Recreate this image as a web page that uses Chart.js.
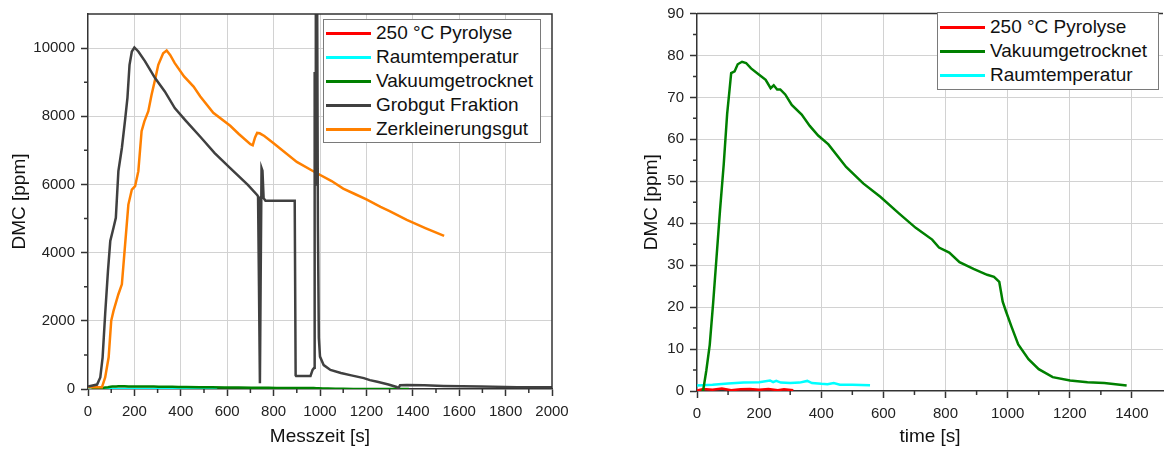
<!DOCTYPE html>
<html>
<head>
<meta charset="utf-8">
<script src="https://cdn.jsdelivr.net/npm/chart.js@4.4.0/dist/chart.umd.min.js"></script>
<style>
body { margin: 0; background: #fff; width: 1171px; height: 452px; overflow: hidden; position: relative; font-family: 'Liberation Sans', Arial, sans-serif; }
.box { position: absolute; top: 0; height: 452px; }
#boxLinks { left: 0; width: 580px; }
#boxRechts { left: 620px; width: 551px; }
.legende { position: absolute; background: #fff; border: 1px solid #7a7a7a; font-size: 19px; color: #111; box-sizing: border-box; }
.legende .zeile { position: relative; white-space: nowrap; }
.legende .linie { position: absolute; left: 2px; width: 45px; height: 3px; }
.legende .text { position: absolute; left: 52px; top: 0; }
</style>
</head>
<body>
<div class="box" id="boxLinks"><canvas id="diagrammLinks"></canvas></div>
<div class="box" id="boxRechts"><canvas id="diagrammRechts"></canvas></div>
<div class="legende" id="legendeLinks" style="left:323px; top:19px; width:218px; height:124px; padding-top:1px;"></div>
<div class="legende" id="legendeRechts" style="left:937px; top:12px; width:222px; height:78px; padding-top:2px;"></div>
<script>
// Messdaten (Zeit in s, DMC in ppm)
const pyroT = [0, 20, 50, 80, 110, 140, 170, 200, 230, 260, 280, 310];
const pyroV = [0.1, 0.5, 0.3, 0.6, 0.2, 0.4, 0.5, 0.3, 0.5, 0.2, 0.4, 0.2];

const raumT = [0, 50, 100, 150, 200, 235, 245, 255, 270, 300, 330, 355, 370, 400, 420, 440, 460, 500, 557];
const raumV = [1.3, 1.5, 1.8, 2.0, 2.1, 2.5, 2.1, 2.4, 2.0, 1.9, 2.0, 2.4, 1.9, 1.7, 1.6, 1.9, 1.5, 1.5, 1.4];

const vakuumT = [15, 20, 30, 41, 52, 63, 74, 86, 97, 105, 110, 121, 131, 145, 158, 174, 200, 221, 237, 247,
  258, 268, 284, 305, 337, 363, 390, 423, 480, 535, 590, 649, 704, 757, 779, 812, 845, 890, 934, 956,
  973, 984, 995, 1012, 1034, 1067, 1100, 1145, 1201, 1257, 1311, 1383];
const vakuumV = [0.2, 0.2, 4.9, 11, 21, 32, 43, 54, 66, 72, 75.8, 76.2, 77.9, 78.5, 78.2, 76.9, 75.4, 74.2, 72.2, 72.9,
  71.9, 71.9, 70.7, 68.2, 65.9, 63.2, 60.9, 58.8, 53.4, 49.5, 46.3, 42.4, 38.9, 36.1, 34.2, 33.0, 30.7, 29.1, 27.7, 27.2,
  26.0, 21.3, 18.9, 15.4, 11.1, 7.6, 5.2, 3.3, 2.5, 2.1, 1.9, 1.3];

const grobT = [0, 39, 53, 63, 74, 86, 96, 110, 120, 131, 146, 160, 170, 179, 189, 200, 217, 246, 289, 331,
  374, 420, 484, 546, 613, 689, 729, 733, 737, 741, 744, 748, 752, 757, 765, 891, 895, 897, 959, 968,
  975, 977, 979, 982, 987, 991, 995, 1000, 1016, 1045, 1090, 1135, 1189, 1215, 1247, 1295, 1330, 1338, 1345, 1374,
  1450, 1533, 1693, 1850, 2000];
const grobV = [70, 130, 340, 930, 2200, 3460, 4340, 4730, 5020, 6390, 7070, 7900, 8540, 9510, 9900, 10020, 9900, 9610, 9120, 8730,
  8240, 7880, 7400, 6920, 6480, 5990, 5690, 5650, 3000, 170, 3000, 6480, 6400, 5600, 5520, 5520, 400, 380, 380, 560,
  620, 9300, 6000, 13000, 13000, 4800, 1500, 950, 700, 560, 470, 400, 320, 260, 210, 130, 60, 20, 110, 120,
  110, 90, 70, 55, 50];

const zerkT = [0, 60, 74, 89, 100, 110, 131, 146, 160, 174, 189, 203, 217, 231, 243, 260, 274, 289, 303, 324,
  339, 354, 374, 414, 455, 484, 540, 613, 650, 700, 710, 720, 729, 740, 760, 800, 900, 973, 1050, 1100,
  1150, 1200, 1261, 1300, 1374, 1454, 1535];
const zerkV = [50, 50, 340, 930, 2000, 2290, 2780, 3070, 4240, 5410, 5850, 5950, 6390, 7560, 7850, 8150, 8630, 9070, 9510, 9850,
  9930, 9800, 9560, 9170, 8870, 8580, 8100, 7720, 7480, 7180, 7150, 7380, 7510, 7500, 7420, 7210, 6660, 6380, 6100, 5880,
  5720, 5560, 5340, 5220, 4960, 4720, 4490];

const farben = {
  pyro: '#ff0000',
  raum: '#00ffff',
  vakuum: '#008000',
  grob: '#404040',
  zerk: '#ff8000'
};

const schrift = "'Liberation Sans', Arial, sans-serif";

function punkte(t, v) {
  return t.map((x, i) => ({ x: x, y: v[i] }));
}

function linie(label, farbe, t, v) {
  return {
    label: label,
    data: punkte(t, v),
    borderColor: farbe,
    backgroundColor: farbe,
    borderWidth: 2.5,
    pointRadius: 0,
    tension: 0,
    fill: false
  };
}

function achse(min, max, schritt, haupt, letzteMarke, titel, titelPad, groesse, horizontal) {
  return {
    type: 'linear',
    min: min,
    max: max,
    afterFit: s => { if (horizontal) s.height = groesse; else s.width = groesse; },
    title: { display: true, text: titel, color: '#111', font: { size: 19, family: schrift }, padding: titelPad },
    ticks: {
      stepSize: schritt,
      autoSkip: false,
      maxRotation: 0,
      color: '#222',
      padding: horizontal ? 8 : 6,
      font: { size: 15, family: schrift, lineHeight: 1 },
      callback: v => (v % haupt === 0 && v <= letzteMarke) ? String(v) : ''
    },
    grid: {
      color: c => (c.tick && c.tick.value % haupt === 0 && c.tick.value > min && c.tick.value < max) ? '#d2d2d2' : 'rgba(0,0,0,0)',
      tickColor: c => (c.tick && c.tick.value % haupt === 0 && c.tick.value <= letzteMarke) ? '#333' : 'rgba(0,0,0,0)',
      tickLength: 7,
      tickWidth: 1.5,
      lineWidth: 1
    },
    border: { color: '#333', width: 1.5 }
  };
}

// Rahmen oben/rechts und kurze Zwischenstriche
const rahmen = {
  id: 'rahmen',
  afterDatasetsDraw(chart, args, opts) {
    const { ctx, chartArea: a, scales } = chart;
    ctx.save();
    ctx.strokeStyle = '#333';
    ctx.lineWidth = 1.5;
    ctx.beginPath();
    ctx.moveTo(a.left, a.top);
    ctx.lineTo(a.right, a.top);
    if (opts.rechts) ctx.lineTo(a.right, a.bottom);
    scales.x.ticks.forEach(t => {
      if (t.value % opts.xHaupt !== 0 && t.value < scales.x.max) {
        const px = scales.x.getPixelForValue(t.value);
        ctx.moveTo(px, a.bottom);
        ctx.lineTo(px, a.bottom + 4);
      }
    });
    scales.y.ticks.forEach(t => {
      if (t.value % opts.yHaupt !== 0 && t.value < scales.y.max) {
        const py = scales.y.getPixelForValue(t.value);
        ctx.moveTo(a.left - 4, py);
        ctx.lineTo(a.left, py);
      }
    });
    ctx.stroke();
    ctx.restore();
  }
};

const datenLinks = [
  linie('Grobgut Fraktion', farben.grob, grobT, grobV),
  linie('Zerkleinerungsgut', farben.zerk, zerkT, zerkV),
  linie('Vakuumgetrocknet', farben.vakuum, vakuumT, vakuumV),
  linie('Raumtemperatur', farben.raum, raumT, raumV),
  linie('250 °C Pyrolyse', farben.pyro, pyroT, pyroV)
];

const datenRechts = [
  linie('Vakuumgetrocknet', farben.vakuum, vakuumT, vakuumV),
  linie('Raumtemperatur', farben.raum, raumT, raumV),
  linie('250 °C Pyrolyse', farben.pyro, pyroT, pyroV)
];

const diagrammLinks = new Chart(document.getElementById('diagrammLinks'), {
  type: 'line',
  data: { datasets: datenLinks },
  options: {
    responsive: true,
    maintainAspectRatio: false,
    animation: false,
    events: [],
    layout: { padding: { top: 14, right: 28, left: 0, bottom: 0 } },
    scales: {
      x: achse(0, 2000, 100, 200, 2000, 'Messzeit [s]', { top: 0, bottom: 4 }, 63, true),
      y: achse(0, 11000, 1000, 2000, 10000, 'DMC [ppm]', { top: 8, bottom: 0 }, 88, false)
    },
    plugins: {
      legend: { display: false },
      tooltip: { enabled: false },
      rahmen: { rechts: true, xHaupt: 200, yHaupt: 2000 }
    }
  },
  plugins: [rahmen]
});

const diagrammRechts = new Chart(document.getElementById('diagrammRechts'), {
  type: 'line',
  data: { datasets: datenRechts },
  options: {
    responsive: true,
    maintainAspectRatio: false,
    animation: false,
    events: [],
    layout: { padding: { top: 7, right: 0, left: 0, bottom: 0 } },
    scales: {
      x: achse(0, 1500, 100, 200, 1400, 'time [s]', { top: 0, bottom: 4 }, 61, true),
      y: achse(0, 90, 5, 10, 90, 'DMC [ppm]', { top: 20, bottom: 0 }, 77, false)
    },
    plugins: {
      legend: { display: false },
      tooltip: { enabled: false },
      rahmen: { rechts: false, xHaupt: 200, yHaupt: 10 }
    }
  },
  plugins: [rahmen]
});

// Legenden innerhalb der Diagramme
function legende(id, chart, reihenfolge, zeilenHoehe) {
  const box = document.getElementById(id);
  reihenfolge.forEach(name => {
    const ds = chart.data.datasets.find(d => d.label === name);
    const zeile = document.createElement('div');
    zeile.className = 'zeile';
    zeile.style.height = zeilenHoehe + 'px';
    zeile.style.lineHeight = zeilenHoehe + 'px';
    const strich = document.createElement('span');
    strich.className = 'linie';
    strich.style.background = ds.borderColor;
    strich.style.top = Math.round(zeilenHoehe / 2 - 1.5) + 'px';
    const text = document.createElement('span');
    text.className = 'text';
    text.textContent = ds.label;
    zeile.appendChild(strich);
    zeile.appendChild(text);
    box.appendChild(zeile);
  });
}

legende('legendeLinks', diagrammLinks,
  ['250 °C Pyrolyse', 'Raumtemperatur', 'Vakuumgetrocknet', 'Grobgut Fraktion', 'Zerkleinerungsgut'], 24);
legende('legendeRechts', diagrammRechts,
  ['250 °C Pyrolyse', 'Vakuumgetrocknet', 'Raumtemperatur'], 24);
</script>
</body>
</html>
